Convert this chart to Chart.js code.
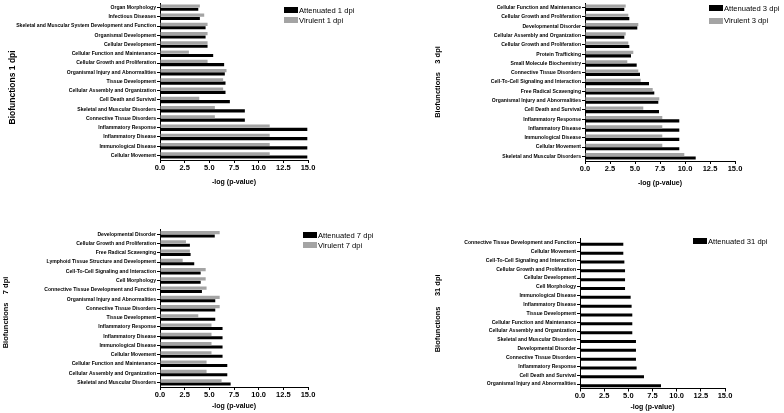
<!DOCTYPE html>
<html>
<head>
<meta charset="utf-8">
<script src="https://cdn.jsdelivr.net/npm/chart.js@4.4.1/dist/chart.umd.min.js"></script>
<style>
    html, body { margin: 0; padding: 0; background: #fff; }
    #fig { position: relative; width: 784px; height: 413px; overflow: hidden; font-family: 'Liberation Sans', Arial, sans-serif; }
    .panel { position: absolute; }
    .legend { position: absolute; font-size: 7.6px; color: #000; white-space: nowrap; }
    .legend .row { display: flex; align-items: center; }
    .legend .sw { display: inline-block; width: 14px; height: 6px; margin-right: 1px; }
</style>
</head>
<body>
<div id="fig"></div>
<script>
// --- Dados ---
const xTickLabels = ['0.0', '2.5', '5.0', '7.5', '10.0', '12.5', '15.0'];
const xTitle = '-log (p-value)';

// 1 dpi
const categories1 = ['Organ Morphology', 'Infectious Diseases', 'Skeletal and Muscular System Development and Function',
    'Organismal Development', 'Cellular Development', 'Cellular Function and Maintenance', 'Cellular Growth and Proliferation',
    'Organismal Injury and Abnormalities', 'Tissue Development', 'Cellular Assembly and Organization', 'Cell Death and Survival',
    'Skeletal and Muscular Disorders', 'Connective Tissue Disorders', 'Inflammatory Response', 'Inflammatory Disease',
    'Immunological Disease', 'Cellular Movement'];
const attenuated1 = [3.88, 4.04, 4.62, 4.62, 4.82, 5.39, 6.5, 6.57, 6.64, 6.64, 7.08, 8.6, 8.6, 14.93, 14.93, 14.93, 14.93];
const virulent1 = [4.04, 4.48, 4.82, 4.82, 4.82, 2.93, 4.82, 6.74, 6.4, 6.4, 3.98, 5.56, 5.56, 11.12, 11.12, 11.12, 11.12];

// 3 dpi
const categories3 = ['Cellular Function and Maintenance', 'Cellular Growth and Proliferation', 'Developmental Disorder',
    'Cellular Assembly and Organization', 'Cellular Growth and Proliferation', 'Protein Trafficking', 'Small Molecule Biochemistry',
    'Connective Tissue Disorders', 'Cell-To-Cell Signaling and Interaction', 'Free Radical Scavenging',
    'Organismal Injury and Abnormalities', 'Cell Death and Survival', 'Inflammatory Response', 'Inflammatory Disease',
    'Immunological Disease', 'Cellular Movement', 'Skeletal and Muscular Disorders'];
const attenuated3 = [3.93, 4.43, 5.23, 3.93, 4.43, 4.6, 5.17, 5.5, 6.4, 6.93, 7.33, 7.4, 9.43, 9.43, 9.43, 9.43, 11.07];
const virulent3 = [4.07, 4.33, 5.33, 4.07, 4.33, 4.83, 4.23, 5.33, 5.57, 6.77, 7.43, 5.83, 7.73, 7.73, 7.73, 7.73, 9.93];

// 7 dpi
const categories7 = ['Developmental Disorder', 'Cellular Growth and Proliferation', 'Free Radical Scavenging',
    'Lymphoid Tissue Structure and Development', 'Cell-To-Cell Signaling and Interaction', 'Cell Morphology',
    'Connective Tissue Development and Function', 'Organismal Injury and Abnormalities', 'Connective Tissue Disorders',
    'Tissue Development', 'Inflammatory Response', 'Inflammatory Disease', 'Immunological Disease', 'Cellular Movement',
    'Cellular Function and Maintenance', 'Cellular Assembly and Organization', 'Skeletal and Muscular Disorders'];
const attenuated7 = [5.55, 3.03, 3.1, 3.47, 4.12, 4.12, 4.25, 5.6, 5.6, 5.6, 6.34, 6.34, 6.34, 6.34, 6.82, 6.82, 7.16];
const virulent7 = [6.05, 2.63, 3.03, 2.3, 4.63, 4.63, 4.72, 6.05, 6.05, 3.88, 5.22, 5.22, 5.22, 5.22, 4.72, 4.72, 6.24];

// 31 dpi
const categories31 = ['Connective Tissue Development and Function', 'Cellular Movement', 'Cell-To-Cell Signaling and Interaction',
    'Cellular Growth and Proliferation', 'Cellular Development', 'Cell Morphology', 'Immunological Disease',
    'Inflammatory Disease', 'Tissue Development', 'Cellular Function and Maintenance', 'Cellular Assembly and Organization',
    'Skeletal and Muscular Disorders', 'Developmental Disorder', 'Connective Tissue Disorders', 'Inflammatory Response',
    'Cell Death and Survival', 'Organismal Injury and Abnormalities'];
const attenuated31 = [4.48, 4.48, 4.59, 4.66, 4.66, 4.66, 5.24, 5.34, 5.41, 5.41, 5.41, 5.79, 5.79, 5.79, 5.86, 6.62, 8.38];

const COLOR_ATT = '#000000';
const COLOR_VIR = '#a4a4a4';

// --- Layout dos painéis ---
const panels = [
    {
        left: 0, top: 0, width: 392, height: 191, plot: { left: 160, right: 308, top: 3 }, xAxisH: 31, xTitlePad: 4.5,
        yTitle: 'Biofunctions 1 dpi     ', yTitleSize: 8.5, yTitlePad: 7.6,
        legend: { x: 284, y: 10, gap: 10 },
        labels: categories1,
        datasets: [
            { label: 'Virulent 1 dpi', data: virulent1, backgroundColor: COLOR_VIR },
            { label: 'Attenuated 1 dpi', data: attenuated1, backgroundColor: COLOR_ATT }
        ]
    },
    {
        left: 426, top: 0, width: 358, height: 192, plot: { left: 585, right: 735, top: 3 }, xAxisH: 31, xTitlePad: 4.5,
        yTitle: 'Biofunctions    3 dpi', yTitleSize: 7.5, yTitlePad: 7.5,
        legend: { x: 709, y: 8, gap: 12.5 },
        labels: categories3,
        datasets: [
            { label: 'Virulent 3 dpi', data: virulent3, backgroundColor: COLOR_VIR },
            { label: 'Attenuated 3 dpi', data: attenuated3, backgroundColor: COLOR_ATT }
        ]
    },
    {
        left: 0, top: 220, width: 392, height: 193, plot: { left: 160, right: 308, top: 229.7 }, xAxisH: 26, xTitlePad: 2.8,
        yTitle: 'Biofunctions    7 dpi    ', yTitleSize: 7.5, yTitlePad: 1.5,
        legend: { x: 303, y: 235, gap: 10 },
        labels: categories7,
        datasets: [
            { label: 'Virulent 7 dpi', data: virulent7, backgroundColor: COLOR_VIR },
            { label: 'Attenuated 7 dpi', data: attenuated7, backgroundColor: COLOR_ATT }
        ]
    },
    {
        left: 426, top: 220, width: 358, height: 193, plot: { left: 580, right: 725, top: 238.3 }, xAxisH: 24.5, xTitlePad: 2.1,
        yTitle: 'Biofunctions     31 dpi', yTitleSize: 7.5, yTitlePad: 7.5,
        legend: { x: 693, y: 241.3, gap: 10 },
        labels: categories31,
        datasets: [
            { label: 'Virulent 31 dpi', data: [], backgroundColor: COLOR_VIR },
            { label: 'Attenuated 31 dpi', data: attenuated31, backgroundColor: COLOR_ATT }
        ]
    }
];

// --- Funções ---
const fig = document.getElementById('fig');
Chart.defaults.font.family = "'Liberation Sans', Arial, sans-serif";
Chart.defaults.color = '#000';

function buildChart(p) {
    const wrap = document.createElement('div');
    wrap.className = 'panel';
    wrap.style.left = p.left + 'px';
    wrap.style.top = p.top + 'px';
    const canvas = document.createElement('canvas');
    canvas.width = p.width;
    canvas.height = p.height;
    canvas.style.width = p.width + 'px';
    canvas.style.height = p.height + 'px';
    wrap.appendChild(canvas);
    fig.appendChild(wrap);

    const yAxisW = p.plot.left - p.left;
    const axisLine = { display: true, color: '#000', width: 1 };
    const tickMarks = { drawOnChartArea: false, drawTicks: true, tickLength: 3, color: '#000', lineWidth: 1 };

    new Chart(canvas, {
        type: 'bar',
        data: { labels: p.labels, datasets: p.datasets },
        options: {
            indexAxis: 'y',
            responsive: false,
            animation: false,
            devicePixelRatio: 1,
            layout: { padding: { top: p.plot.top - p.top, right: p.left + p.width - p.plot.right, left: 0, bottom: 0 } },
            datasets: { bar: { barPercentage: 0.95, categoryPercentage: 0.72 } },
            plugins: { legend: { display: false }, tooltip: { enabled: false } },
            scales: {
                x: {
                    type: 'linear',
                    min: 0,
                    max: 15,
                    afterBuildTicks: s => { s.ticks = xTickLabels.map(t => ({ value: parseFloat(t) })); },
                    ticks: { callback: (v, i) => xTickLabels[i], font: { size: 7.5, weight: 'bold' }, padding: 0, maxRotation: 0, autoSkip: false },
                    grid: tickMarks,
                    border: axisLine,
                    title: { display: true, text: xTitle, font: { size: 7, weight: 'bold' }, padding: { top: 0, bottom: p.xTitlePad } },
                    afterFit: s => { s.height = p.xAxisH; s.paddingLeft = 0; s.paddingRight = 0; s.paddingTop = 0; s.paddingBottom = 0; }
                },
                y: {
                    type: 'category',
                    offset: true,
                    ticks: { font: { size: 5.1, weight: 'bold' }, padding: 1, autoSkip: false },
                    grid: Object.assign({ offset: false }, tickMarks),
                    border: axisLine,
                    title: { display: true, text: p.yTitle, font: { size: p.yTitleSize, weight: 'bold' }, padding: { top: p.yTitlePad, bottom: 0 } },
                    afterFit: s => { s.width = yAxisW; s.paddingLeft = 0; s.paddingRight = 0; s.paddingTop = 0; s.paddingBottom = 0; }
                }
            }
        }
    });
}

function buildLegend(p) {
    const box = document.createElement('div');
    box.className = 'legend';
    box.style.left = p.legend.x + 'px';
    box.style.top = (p.legend.y - p.legend.gap / 2) + 'px';
    // Attenuated primeiro, como na legenda original
    p.datasets.slice().reverse().filter(d => d.data.length).forEach(d => {
        const row = document.createElement('div');
        row.className = 'row';
        row.style.height = p.legend.gap + 'px';
        row.innerHTML = `<span class="sw" style="background:${d.backgroundColor}"></span>${d.label}`;
        box.appendChild(row);
    });
    fig.appendChild(box);
}

// --- Inicialização ---
panels.forEach(p => {
    buildChart(p);
    buildLegend(p);
});
</script>
</body>
</html>
